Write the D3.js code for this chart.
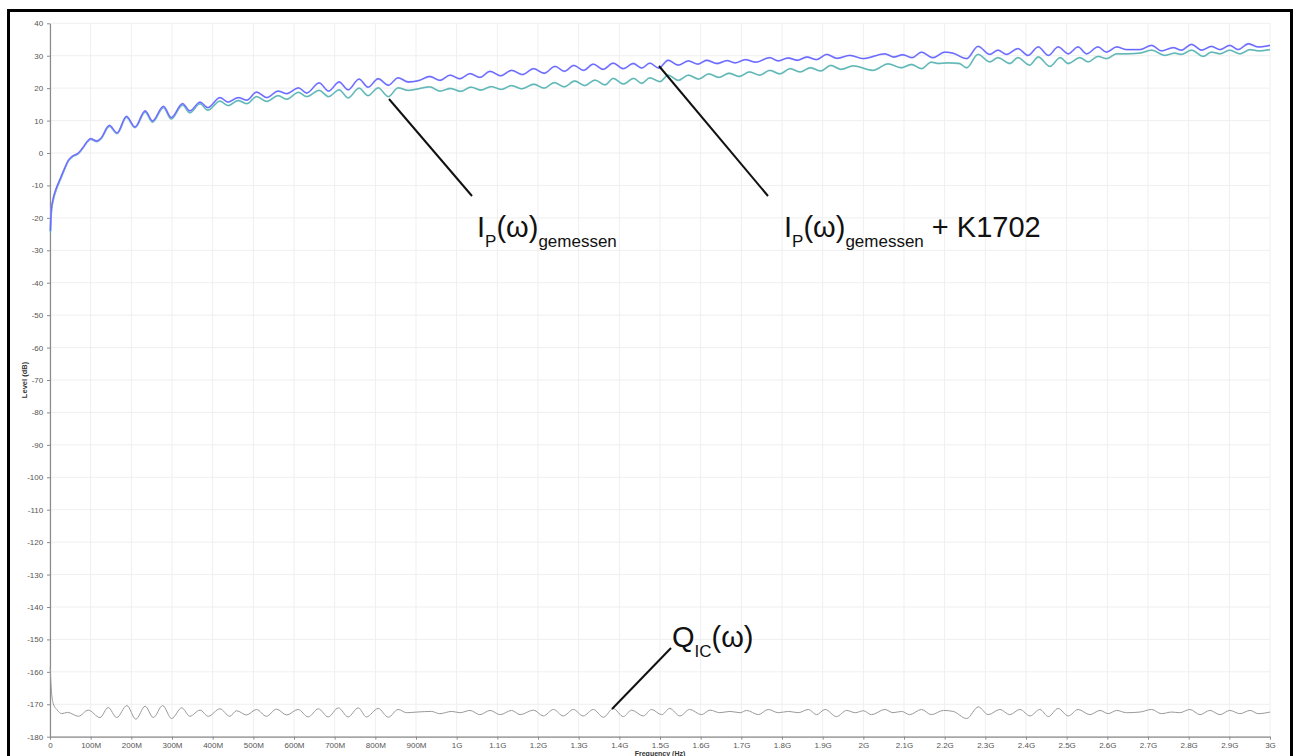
<!DOCTYPE html>
<html><head><meta charset="utf-8">
<script src="https://cdn.jsdelivr.net/npm/d3@7"></script>
<style>html,body{margin:0;padding:0;background:#fff;}svg{display:block;}</style>
</head><body>
<script>
// ---------- data (frequency in MHz, level in dB) ----------
const freqK1702 = [1,3,8,15,25,35,45,55,70,80,94,100,115,125,146,165,188,209,234,252,279,298,326,344,369,388,418,438,463,484,508,533,561,582,611,631,662,685,711,733,760,782,807,832,856,881,906,934,959,984,1008,1033,1057,1082,1108,1135,1162,1189,1215,1242,1265,1288,1312,1336,1360,1385,1410,1434,1455,1475,1497,1520,1545,1570,1593,1615,1640,1665,1685,1710,1735,1770,1790,1815,1838,1861,1885,1910,1935,1967,2000,2053,2075,2097,2120,2143,2171,2200,2220,2254,2282,2311,2331,2352,2380,2405,2430,2455,2479,2504,2528,2549,2577,2598,2623,2647,2680,2709,2733,2762,2782,2807,2832,2856,2877,2901,2922,2947,2971,3000];
const levelK1702 = [-24,-18,-14,-11,-8,-5,-2.3,-1,0,1.5,3.9,4.4,3.7,4.5,8.5,6.2,11.3,8.0,13,9.9,14.4,10.9,15.2,13.0,15.7,14.0,17.1,15.7,17.1,16.3,18.8,17.1,19.1,18.3,20.1,18.5,21.6,19.1,21.9,19.5,22.8,20.3,22.9,20.9,23.2,21.9,22.3,23.6,22.4,24.0,22.9,24.5,23.3,25.2,23.8,25.5,24.2,26.0,24.6,26.7,25.2,27.0,25.5,27.4,25.8,27.7,26.0,27.6,26.2,27.7,26.2,28.6,27.1,28.4,27.4,28.6,27.6,28.5,27.8,28.8,28.0,29.4,28.4,29.3,28.6,29.6,28.8,30.4,29.2,30.1,29.1,30.6,29.6,30.3,29.4,31.1,29.4,31.1,30.8,29.1,32.9,30.4,31.7,30.4,32.2,30.1,32.7,30.1,32.7,30.6,32.7,30.6,32.7,31.1,32.7,31.9,31.9,33.2,31.5,32.5,31.7,33.5,31.7,32.9,31.9,33.2,31.9,33.7,32.7,33.2];

const freqMeasured = [1,3,8,15,25,35,45,55,70,80,94,100,115,125,146,165,188,209,234,252,279,298,326,344,369,388,418,438,463,484,508,533,561,582,611,631,662,685,711,733,760,782,807,832,856,881,906,934,959,985,1010,1035,1060,1085,1110,1135,1160,1190,1215,1240,1265,1290,1315,1340,1365,1385,1410,1435,1455,1475,1500,1520,1545,1570,1595,1620,1645,1670,1695,1720,1745,1770,1795,1820,1845,1870,1895,1920,1945,1975,2024,2061,2093,2118,2143,2167,2185,2208,2236,2254,2282,2311,2331,2360,2380,2409,2430,2459,2484,2504,2532,2553,2577,2598,2623,2647,2680,2709,2741,2766,2782,2807,2836,2856,2877,2901,2926,2951,2971,3000];
const levelMeasured = [-24.5,-18.5,-14.5,-11.5,-8.4,-5.3,-2.5,-1.2,-0.2,1.4,3.7,4.2,3.5,4.3,8.2,6.0,11.0,7.8,12.6,9.5,14.0,10.5,14.8,12.4,15.2,13.2,16.0,14.6,16.2,15.2,17.4,15.9,17.7,16.6,18.7,17.4,19.3,17.4,19.5,17.0,20.0,17.7,20.1,17.4,20.1,19.3,19.8,20.4,19.1,19.9,19.0,20.3,19.4,20.5,19.6,20.8,19.8,21.2,20.0,21.7,20.4,22.2,20.8,22.5,21.0,23.0,21.3,23.0,21.5,23.2,22.0,24.0,22.4,24.0,22.8,24.4,23.3,24.6,23.6,25.0,24.0,25.5,24.4,26.0,25.0,26.3,25.3,27.0,25.8,26.9,25.5,27.5,26.3,27.3,26.0,28.0,27.6,27.8,27.6,26.3,30.4,28.1,29.4,27.6,29.4,27.1,29.6,26.7,29.4,27.6,29.4,28.1,29.8,29.1,30.6,30.6,30.8,31.7,30.1,30.8,30.4,31.7,29.8,31.1,30.6,31.7,30.6,31.9,31.5,31.9];

const freqQIC = [0.5,3,8,18,29,43,70,94,123,143,164,189,211,234,254,277,299,324,344,369,389,418,442,459,483,508,532,557,582,610,635,660,684,709,733,758,778,807,832,856,877,902,938,958,988,1008,1033,1057,1082,1107,1135,1156,1189,1213,1238,1262,1287,1311,1336,1361,1385,1410,1430,1459,1479,1504,1524,1549,1573,1602,1623,1647,1672,1697,1713,1742,1766,1791,1816,1840,1865,1885,1906,1934,1959,1980,2000,2020,2053,2073,2094,2114,2143,2167,2197,2221,2254,2283,2307,2336,2360,2385,2410,2434,2455,2479,2504,2528,2557,2582,2602,2623,2647,2680,2709,2733,2758,2778,2803,2828,2852,2877,2901,2926,2951,2971,3000];
const levelQIC = [-158.5,-165,-169.8,-171.8,-172.9,-172.5,-173.7,-171.8,-174.1,-171.0,-174.1,-170.4,-174.6,-170.6,-174.1,-170.4,-174.4,-171.1,-173.7,-171.8,-173.7,-171.4,-173.7,-172,-173.3,-171.6,-173.7,-171.5,-173.3,-171.6,-173.9,-171.4,-173.9,-171.1,-173.9,-171.1,-173.9,-171.3,-174.0,-171.6,-172.6,-172.4,-172.2,-172.9,-172.2,-172.6,-171.9,-173.2,-171.9,-173.2,-171.9,-173.2,-171.8,-173.6,-171.6,-173.6,-171.6,-173.6,-171.6,-174.0,-171.3,-173.8,-171.8,-173.6,-171.6,-173.2,-171.3,-173.6,-171.6,-173.2,-171.8,-172.6,-172.2,-172.6,-171.9,-173.2,-171.6,-172.6,-172.2,-172.6,-171.6,-173.2,-171.6,-173.8,-171.9,-172.6,-172.0,-173.2,-171.6,-172.6,-172.2,-173.2,-171.6,-173.2,-171.9,-172.2,-174.4,-170.8,-173.2,-171.6,-173.2,-171.6,-173.6,-171.6,-173.8,-171.3,-173.6,-171.6,-173.2,-171.9,-172.9,-171.9,-172.6,-172.4,-171.6,-172.9,-172.4,-172.6,-171.6,-173.2,-171.9,-173.2,-171.9,-172.9,-171.9,-172.9,-172.4];

const xTickValues = [0,100,200,300,400,500,600,700,800,900,1000,1100,1200,1300,1400,1500,1600,1700,1800,1900,2000,2100,2200,2300,2400,2500,2600,2700,2800,2900,3000];
const xTickLabels = ["0","100M","200M","300M","400M","500M","600M","700M","800M","900M","1G","1.1G","1.2G","1.3G","1.4G","1.5G","1.6G","1.7G","1.8G","1.9G","2G","2.1G","2.2G","2.3G","2.4G","2.5G","2.6G","2.7G","2.8G","2.9G","3G"];
const yTickValues = [40,30,20,10,0,-10,-20,-30,-40,-50,-60,-70,-80,-90,-100,-110,-120,-130,-140,-150,-160,-170,-180];
const xTitle = "Frequency (Hz)";
const yTitle = "Level (dB)";

// ---------- drawing ----------
const W = 1295, H = 756;
const svg = d3.select("body").append("svg").attr("width", W).attr("height", H);

const x = d3.scaleLinear().domain([0, 3000]).range([50, 1270]);
const y = d3.scaleLinear().domain([-180, 40]).range([736.7, 23.3]);

// grid
const grid = svg.append("g");
grid.selectAll("line.vg").data(xTickValues).join("line")
  .attr("x1", d => x(d)).attr("x2", d => x(d)).attr("y1", y(40)).attr("y2", y(-180))
  .attr("stroke", "#efefef").attr("stroke-width", 1);
grid.selectAll("line.hg").data(yTickValues).join("line")
  .attr("x1", x(0)).attr("x2", x(3000)).attr("y1", d => y(d)).attr("y2", d => y(d))
  .attr("stroke", "#efefef").attr("stroke-width", 1);

// axes
const fmtX = d => xTickLabels[xTickValues.indexOf(d)];
const xAxis = svg.append("g").attr("transform", `translate(0,${y(-180)})`)
  .call(d3.axisBottom(x).tickValues(xTickValues).tickFormat(fmtX).tickSize(3).tickSizeOuter(0));
const yAxis = svg.append("g").attr("transform", `translate(${x(0)},0)`)
  .call(d3.axisLeft(y).tickValues(yTickValues).tickFormat(d => String(d)).tickSize(3).tickSizeOuter(0));
[xAxis, yAxis].forEach(a => {
  a.select(".domain").attr("stroke", "#8a8a8a").attr("stroke-width", 1.2);
  a.selectAll(".tick line").attr("stroke", "#8a8a8a");
  a.selectAll(".tick text").attr("fill", "#555").attr("font-family", "Liberation Sans, Arial, sans-serif").attr("font-size", 8);
});
xAxis.selectAll(".tick text").attr("y", 5).attr("dy", "0.8em");
yAxis.selectAll(".tick text").attr("dx", "-0.1em");

svg.append("text").attr("x", (x(0)+x(3000))/2).attr("y", 756).attr("text-anchor", "middle")
  .attr("font-family", "Liberation Sans, Arial, sans-serif").attr("font-size", 7).attr("font-weight", "bold").attr("fill", "#333").text(xTitle);
svg.append("text").attr("transform", "translate(27,380) rotate(-90)").attr("text-anchor", "middle")
  .attr("font-family", "Liberation Sans, Arial, sans-serif").attr("font-size", 7.5).attr("font-weight", "bold").attr("fill", "#333").text(yTitle);

// lines
const line = d3.line().x(d => x(d[0])).y(d => y(d[1])).curve(d3.curveMonotoneX);
const zip = (a, b) => a.map((v, i) => [v, b[i]]);
svg.append("path").datum(zip(freqQIC, levelQIC)).attr("d", line)
  .attr("fill", "none").attr("stroke", "#9a9a9a").attr("stroke-width", 1);
svg.append("path").datum(zip(freqMeasured, levelMeasured)).attr("d", line)
  .attr("fill", "none").attr("stroke", "#86cccc").attr("stroke-width", 1.8);
svg.append("path").datum(zip(freqMeasured, levelMeasured)).attr("d", line)
  .attr("fill", "none").attr("stroke", "#3fa0a0").attr("stroke-width", 0.6);
svg.append("path").datum(zip(freqK1702, levelK1702)).attr("d", line)
  .attr("fill", "none").attr("stroke", "#9696ff").attr("stroke-width", 1.8);
svg.append("path").datum(zip(freqK1702, levelK1702)).attr("d", line)
  .attr("fill", "none").attr("stroke", "#4040ff").attr("stroke-width", 0.6);

// annotations
const ann = svg.append("g").attr("stroke", "#111").attr("stroke-width", 2);
ann.append("line").attr("x1", 389).attr("y1", 99).attr("x2", 472).attr("y2", 196);
ann.append("line").attr("x1", 659).attr("y1", 66).attr("x2", 768).attr("y2", 196);
ann.append("line").attr("x1", 612).attr("y1", 709).attr("x2", 671).attr("y2", 648);

const font = "Liberation Sans, Arial, sans-serif";
function label(x0, yb, parts) {
  const t = svg.append("text").attr("x", x0).attr("y", yb).attr("font-family", font).attr("fill", "#111");
  let cur = 0;
  parts.forEach(p => {
    const dy = p.sub ? 10 : 0;
    t.append("tspan").attr("font-size", p.sub ? 17 : 29).attr("dy", dy - cur).text(p.t);
    cur = dy;
  });
}
label(477, 237, [{t:"I"},{t:"P",sub:true},{t:"(ω)"},{t:"gemessen",sub:true}]);
label(784, 237, [{t:"I"},{t:"P",sub:true},{t:"(ω)"},{t:"gemessen",sub:true},{t:" + K1702"}]);
label(672, 647, [{t:"Q"},{t:"IC",sub:true},{t:"(ω)"}]);

// frame
svg.append("rect").attr("x", 8.5).attr("y", 10.5).attr("width", 1283).attr("height", 770)
  .attr("fill", "none").attr("stroke", "#000").attr("stroke-width", 3);
</script>
</body></html>
